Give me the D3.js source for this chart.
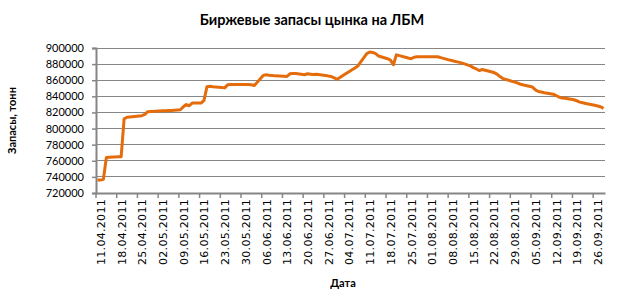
<!DOCTYPE html>
<html>
<head>
<meta charset="utf-8">
<script src="https://cdn.jsdelivr.net/npm/d3@7"></script>
<style>
  body { margin: 0; background: #fff; }
  svg { display: block; font-family: Lato, "Open Sans", sans-serif; }
</style>
</head>
<body>
<div id="svganchor"></div>
<script>
// LME zinc stocks, business days (dd.mm.yyyy)
const dates = [
  "11.04.2011","12.04.2011","13.04.2011","14.04.2011","15.04.2011","18.04.2011","19.04.2011","20.04.2011","21.04.2011",
  "26.04.2011","27.04.2011","28.04.2011",
  "03.05.2011","04.05.2011","05.05.2011","06.05.2011","09.05.2011","10.05.2011","11.05.2011","12.05.2011","13.05.2011",
  "16.05.2011","17.05.2011","18.05.2011","19.05.2011","20.05.2011","23.05.2011","24.05.2011","25.05.2011","26.05.2011","27.05.2011",
  "31.05.2011","01.06.2011","02.06.2011","03.06.2011","06.06.2011","07.06.2011","08.06.2011","09.06.2011","10.06.2011",
  "13.06.2011","14.06.2011","15.06.2011","16.06.2011","17.06.2011","20.06.2011","21.06.2011","22.06.2011","23.06.2011","24.06.2011",
  "27.06.2011","28.06.2011","29.06.2011","30.06.2011","01.07.2011","04.07.2011","05.07.2011","06.07.2011","07.07.2011","08.07.2011",
  "11.07.2011","12.07.2011","13.07.2011","14.07.2011","15.07.2011","18.07.2011","19.07.2011","20.07.2011","21.07.2011","22.07.2011",
  "25.07.2011","26.07.2011","27.07.2011","28.07.2011","29.07.2011","01.08.2011","02.08.2011","03.08.2011","04.08.2011","05.08.2011",
  "08.08.2011","09.08.2011","10.08.2011","11.08.2011","12.08.2011","15.08.2011","16.08.2011","17.08.2011","18.08.2011","19.08.2011",
  "22.08.2011","23.08.2011","24.08.2011","25.08.2011","26.08.2011","30.08.2011","31.08.2011","01.09.2011","02.09.2011",
  "05.09.2011","06.09.2011","07.09.2011","08.09.2011","09.09.2011","12.09.2011","13.09.2011","14.09.2011","15.09.2011","16.09.2011",
  "19.09.2011","20.09.2011","21.09.2011","22.09.2011","23.09.2011","26.09.2011","27.09.2011","28.09.2011","29.09.2011"
];
const stocks = [
  736000, 736000, 737000, 764000, 764500, 765000, 765000, 812000, 814000,
  816000, 817500, 821000,
  822000, 822000, 822300, 822500, 823400, 827000, 829800, 828300, 831600,
  831600, 835000, 852000, 852500, 852000, 851000, 850500, 854500, 854600, 854600,
  854600, 854800, 854300, 853400, 866000, 866700, 866200, 865800, 865400,
  864800, 864600, 868000, 868300, 868300, 866800, 868000, 867500, 867000, 867300,
  866000, 865200, 864500, 863000, 861200, 868300, 870600, 873000, 875300, 877700,
  893000, 895000, 894500, 893000, 890000, 886700, 885000, 879200, 891500, 890500,
  887500, 886700, 888500, 889200, 889200, 889200, 889200, 889200, 889200, 888000,
  885000, 884200, 883300, 882500, 881500, 877800, 875600, 874000, 872000, 873300,
  870500, 869500, 867500, 864500, 862000, 857700, 856500, 855000, 854000,
  851500, 848000, 846000, 845300, 844500, 842600, 841000, 839000, 838000, 837500,
  835800, 834500, 832800, 832000, 831200, 829000, 828000, 827000, 825000
];
const tickLabels = [
  "11.04.2011","18.04.2011","25.04.2011","02.05.2011","09.05.2011","16.05.2011","23.05.2011","30.05.2011",
  "06.06.2011","13.06.2011","20.06.2011","27.06.2011","04.07.2011","11.07.2011","18.07.2011","25.07.2011",
  "01.08.2011","08.08.2011","15.08.2011","22.08.2011","29.08.2011","05.09.2011","12.09.2011","19.09.2011","26.09.2011"
];
const yTicks = [720000, 740000, 760000, 780000, 800000, 820000, 840000, 860000, 880000, 900000];

const width = 626, height = 292;
const margin = { top: 48, left: 96, right: 21, bottom: 99 };
const parse = d3.timeParse("%d.%m.%Y");
const HALF = 12 * 3600 * 1000;

const data = dates.map((d, i) => ({ date: parse(d), value: stocks[i] }));

const svg = d3.select("#svganchor").append("svg")
  .attr("width", width).attr("height", height);

// slots of one day; first slot starts half a day before 11.04
const x = d3.scaleTime()
  .domain([new Date(parse(dates[0]).getTime() - HALF), new Date(parse(dates[dates.length - 1]).getTime() + HALF)])
  .range([margin.left, width - margin.right]);

const y = d3.scaleLinear()
  .domain([720000, 900000])
  .range([height - margin.bottom, margin.top]);

// gridlines
svg.append("g")
  .selectAll("line")
  .data(yTicks.slice(1))
  .join("line")
  .attr("x1", margin.left).attr("x2", width - margin.right)
  .attr("y1", d => y(d)).attr("y2", d => y(d))
  .attr("stroke", "#868686").attr("stroke-width", 1)
  .attr("shape-rendering", "crispEdges");

// y axis
const yAxis = svg.append("g")
  .attr("transform", `translate(${margin.left},0)`)
  .call(d3.axisLeft(y).tickValues(yTicks).tickSize(4).tickPadding(8).tickFormat(d3.format("d")));
yAxis.select(".domain").attr("stroke", "#868686").attr("stroke-width", 2);
yAxis.selectAll(".tick line").attr("stroke", "#868686").attr("stroke-width", 1.5);
yAxis.selectAll("text").attr("fill", "#000").style("font-size", "11px").style("font-family", "Lato, sans-serif");

// x axis
const xAxis = svg.append("g")
  .attr("transform", `translate(0,${height - margin.bottom})`)
  .call(d3.axisBottom(x).tickValues(tickLabels.map(parse)).tickSize(0).tickFormat(d3.timeFormat("%d.%m.%Y")));
xAxis.select(".domain").attr("stroke", "#868686").attr("stroke-width", 2);
xAxis.selectAll("text")
  .attr("fill", "#000")
  .style("font-size", "11px")
  .style("font-family", "\"DejaVu Sans\", sans-serif")
  .style("letter-spacing", "0.3px")
  .attr("text-anchor", "end")
  .attr("transform", "translate(3,6) rotate(-90)")
  .attr("x", 0).attr("y", 0).attr("dy", "0.35em");

// x tick marks at slot boundaries
svg.append("g")
  .selectAll("line")
  .data(tickLabels.map(parse))
  .join("line")
  .attr("x1", d => x(new Date(d.getTime() - HALF)))
  .attr("x2", d => x(new Date(d.getTime() - HALF)))
  .attr("y1", height - margin.bottom)
  .attr("y2", height - margin.bottom + 5)
  .attr("stroke", "#868686").attr("stroke-width", 1.5);

// series line
svg.append("path")
  .datum(data)
  .attr("fill", "none")
  .attr("stroke", "#E46C0A")
  .attr("stroke-width", 3)
  .attr("stroke-linejoin", "round")
  .attr("d", d3.line().x(d => x(d.date)).y(d => y(d.value)));

// titles
svg.append("text")
  .attr("x", 312).attr("y", 25)
  .attr("text-anchor", "middle")
  .style("font-size", "14.5px").style("font-weight", "bold")
  .text("Биржевые запасы цынка на ЛБМ");

svg.append("text")
  .attr("transform", `translate(16,${(margin.top + height - margin.bottom) / 2}) rotate(-90)`)
  .attr("text-anchor", "middle")
  .style("font-size", "11px").style("font-weight", "bold")
  .text("Запасы, тонн");

svg.append("text")
  .attr("x", 343).attr("y", 287)
  .attr("text-anchor", "middle")
  .style("font-size", "11px").style("font-weight", "bold")
  .text("Дата");
</script>
</body>
</html>
